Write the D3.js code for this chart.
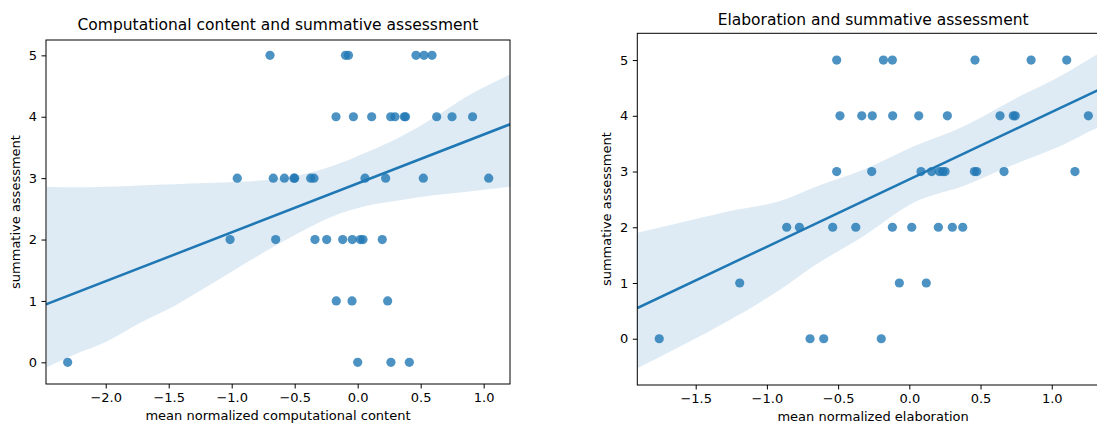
<!DOCTYPE html>
<html>
<head>
<meta charset="utf-8">
<script src="https://cdn.jsdelivr.net/npm/d3@7"></script>
<style>
  html, body { margin: 0; padding: 0; background: #fff; overflow: hidden; }
  svg { display: block; font-family: "DejaVu Sans", sans-serif; }
</style>
</head>
<body>
<svg id="chart" width="1097" height="425"></svg>
<script>
// left panel: computational content vs summative assessment
var compX = [-0.696, -0.097, -0.073, 0.463, 0.526, 0.590,
             -0.172, -0.034, 0.111, 0.262, 0.296, 0.370, 0.380, 0.627, 0.749, 0.912,
             -0.956, -0.670, -0.582, -0.506, -0.500, -0.373, -0.347, 0.058, 0.222, 0.521, 1.040,
             -1.013, -0.651, -0.339, -0.246, -0.119, -0.043, 0.021, 0.042, 0.195,
             -0.170, -0.045, 0.238,
             -2.302, 0.000, 0.264, 0.410];
var compY = [5, 5, 5, 5, 5, 5,
             4, 4, 4, 4, 4, 4, 4, 4, 4, 4,
             3, 3, 3, 3, 3, 3, 3, 3, 3, 3, 3,
             2, 2, 2, 2, 2, 2, 2, 2, 2,
             1, 1, 1,
             0, 0, 0, 0];
// bootstrap confidence band
var compBandX    = [-2.468, -2.257, -1.992, -1.728, -1.463, -1.198, -0.934, -0.670, -0.458, -0.196, 0.071, 0.336, 0.600, 0.865, 1.209];
var compBandLow  = [-0.08, 0.12, 0.34, 0.64, 0.91, 1.23, 1.56, 1.88, 2.12, 2.38, 2.55, 2.64, 2.72, 2.78, 2.86];
var compBandHigh = [2.86, 2.85, 2.86, 2.88, 2.90, 2.92, 2.94, 2.98, 3.05, 3.20, 3.42, 3.67, 3.98, 4.33, 4.69];

// right panel: elaboration vs summative assessment
var elabX = [-0.510, -0.182, -0.119, 0.461, 0.855, 1.105,
             -0.487, -0.334, -0.260, -0.117, 0.066, 0.267, 0.637, 0.730, 0.744, 1.257,
             -0.510, -0.264, 0.082, 0.157, 0.211, 0.234, 0.251, 0.457, 0.473, 0.665, 1.163,
             -0.861, -0.772, -0.538, -0.376, -0.119, 0.017, 0.204, 0.302, 0.375,
             -1.191, -0.070, 0.119,
             -1.756, -0.697, -0.601, -0.197];
var elabY = compY.slice();
var elabBandX    = [-1.910, -1.610, -1.259, -0.908, -0.674, -0.323, 0.028, 0.379, 0.730, 1.081, 1.318, 1.402];
var elabBandLow  = [-0.53, -0.14, 0.34, 0.88, 1.30, 1.84, 2.44, 2.74, 3.12, 3.48, 3.78, 3.86];
var elabBandHigh = [1.90, 2.08, 2.29, 2.47, 2.71, 3.03, 3.45, 3.81, 4.29, 4.74, 5.10, 5.22];

var xTicksComp = [-2.0, -1.5, -1.0, -0.5, 0.0, 0.5, 1.0];
var xTicksElab = [-1.5, -1.0, -0.5, 0.0, 0.5, 1.0];
var yTicks = [0, 1, 2, 3, 4, 5];

var blue = "#1f77b4";
var svg = d3.select("#chart");

function linfit(xs, ys) {
    var mx = d3.mean(xs), my = d3.mean(ys);
    var sxy = d3.sum(xs, function (x, i) { return (x - mx) * (ys[i] - my); });
    var sxx = d3.sum(xs, function (x) { return (x - mx) * (x - mx); });
    var b = sxy / sxx;
    return { slope: b, intercept: my - b * mx };
}

function panel(cfg) {
    var x = d3.scaleLinear().domain(cfg.xDomain).range([cfg.left, cfg.right]);
    var y = d3.scaleLinear().domain(cfg.yDomain).range([cfg.bottom, cfg.top]);
    var g = svg.append("g");

    var clipId = "clip-" + cfg.id;
    g.append("clipPath").attr("id", clipId)
        .append("rect")
        .attr("x", cfg.left).attr("y", cfg.top)
        .attr("width", cfg.right - cfg.left).attr("height", cfg.bottom - cfg.top);
    var plot = g.append("g").attr("clip-path", "url(#" + clipId + ")");

    // points
    plot.selectAll("circle")
        .data(cfg.xs)
        .enter()
        .append("circle")
        .attr("cx", function (d) { return x(d); })
        .attr("cy", function (d, i) { return y(cfg.ys[i]); })
        .attr("r", 4.6)
        .style("fill", blue)
        .style("fill-opacity", 0.8);

    // confidence band
    var area = d3.area()
        .curve(d3.curveMonotoneX)
        .x(function (d, i) { return x(cfg.bandX[i]); })
        .y0(function (d, i) { return y(cfg.bandLow[i]); })
        .y1(function (d, i) { return y(cfg.bandHigh[i]); });
    plot.append("path")
        .datum(cfg.bandX)
        .attr("d", area)
        .style("fill", blue)
        .style("fill-opacity", 0.15);

    // regression line
    var fit = linfit(cfg.xs, cfg.ys);
    var line = d3.line()
        .x(function (d) { return x(d); })
        .y(function (d) { return y(fit.intercept + fit.slope * d); });
    plot.append("path")
        .datum(cfg.xDomain)
        .attr("d", line)
        .style("fill", "none")
        .style("stroke", blue)
        .style("stroke-width", 2.5);

    // axes
    var fmt = d3.format(".1f");
    var xAxis = g.append("g")
        .attr("transform", "translate(0," + cfg.bottom + ")")
        .call(d3.axisBottom(x).tickValues(cfg.xTicks).tickFormat(fmt).tickSize(4.5).tickPadding(4.5));
    var yAxis = g.append("g")
        .attr("transform", "translate(" + cfg.left + ",0)")
        .call(d3.axisLeft(y).tickValues(yTicks).tickFormat(d3.format("d")).tickSize(4.5).tickPadding(4.5));
    [xAxis, yAxis].forEach(function (a) {
        a.select(".domain").remove();
        a.selectAll("text").style("font-size", "13px").style("font-family", "DejaVu Sans").style("fill", "#000");
        a.selectAll("line").style("stroke", "#000").style("stroke-width", 1);
    });

    g.append("rect")
        .attr("x", cfg.left).attr("y", cfg.top)
        .attr("width", cfg.right - cfg.left).attr("height", cfg.bottom - cfg.top)
        .style("fill", "none").style("stroke", "#000").style("stroke-width", 1);

    var cx = (cfg.left + cfg.right) / 2;
    g.append("text")
        .attr("x", cx).attr("y", cfg.titleY)
        .attr("text-anchor", "middle")
        .style("font-size", "15.5px")
        .text(cfg.title);
    g.append("text")
        .attr("x", cx).attr("y", cfg.xLabelY)
        .attr("text-anchor", "middle")
        .style("font-size", "13px")
        .text(cfg.xLabel);
    g.append("text")
        .attr("transform", "translate(" + cfg.yLabelX + "," + (cfg.top + cfg.bottom) / 2 + ") rotate(-90)")
        .attr("text-anchor", "middle")
        .style("font-size", "13px")
        .text("summative assessment");
}

panel({
    id: "comp", xs: compX, ys: compY,
    bandX: compBandX, bandLow: compBandLow, bandHigh: compBandHigh,
    xDomain: [-2.474, 1.209], yDomain: [-0.353, 5.25],
    left: 46, right: 510, top: 40, bottom: 384,
    xTicks: xTicksComp,
    title: "Computational content and summative assessment", titleY: 30,
    xLabel: "mean normalized computational content", xLabelY: 420, yLabelX: 20
});

panel({
    id: "elab", xs: elabX, ys: elabY,
    bandX: elabBandX, bandLow: elabBandLow, bandHigh: elabBandHigh,
    xDomain: [-1.91, 1.402], yDomain: [-0.83, 5.48],
    left: 637.3, right: 1109, top: 33.3, bottom: 385,
    xTicks: xTicksElab,
    title: "Elaboration and summative assessment", titleY: 25,
    xLabel: "mean normalized elaboration", xLabelY: 421, yLabelX: 611
});
</script>
</body>
</html>
